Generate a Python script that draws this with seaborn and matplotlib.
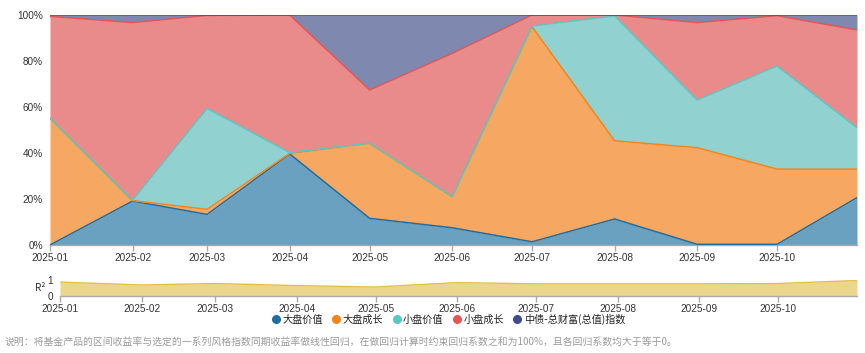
import numpy as np
import pandas as pd
import matplotlib
matplotlib.use("Agg")
import matplotlib.pyplot as plt
from matplotlib.lines import Line2D
from matplotlib.ticker import FuncFormatter
import seaborn as sns

# ---------------- data ----------------
dates = ["2025-01-01", "2025-02-01", "2025-03-01", "2025-04-01", "2025-05-01",
         "2025-06-01", "2025-07-01", "2025-08-01", "2025-09-01", "2025-10-01",
         "2025-10-31"]
tick_labels = ["2025-01", "2025-02", "2025-03", "2025-04", "2025-05",
               "2025-06", "2025-07", "2025-08", "2025-09", "2025-10"]
series_names = ["大盘价值", "大盘成长", "小盘价值", "小盘成长", "中债-总财富(总值)指数"]

large_value = [0.0, 19.1, 13.3, 39.6, 11.6, 7.5, 1.4, 11.3, 0.3, 0.3, 20.6]
large_growth = [55.1, 0.2, 2.2, 0.2, 32.6, 13.5, 93.5, 34.0, 42.0, 32.7, 12.4]
small_value = [0.1, 0.2, 43.9, 0.4, 0.1, 0.1, 0.3, 54.3, 20.7, 44.8, 18.0]
small_growth = [44.2, 77.2, 40.4, 59.8, 23.1, 62.2, 4.8, 0.4, 33.7, 21.9, 42.5]
bond_index = [0.6, 3.3, 0.2, 0.0, 32.6, 16.7, 0.0, 0.0, 3.3, 0.3, 6.5]

r_squared = [0.87, 0.69, 0.78, 0.65, 0.56, 0.84, 0.76, 0.76, 0.76, 0.78, 0.97]

footnote = "说明：将基金产品的区间收益率与选定的一系列风格指数同期收益率做线性回归，在做回归计算时约束回归系数之和为100%，且各回归系数均大于等于0。"

# ---------------- style ----------------
line_colors = ["#1f6e9f", "#f58518", "#5cc6c4", "#e45756", "#3e4c8a"]
fill_colors = ["#6aa0c0", "#f6a863", "#91d2d0", "#e98b8b", "#7f88ae"]
r2_fill = "#ecd68e"
r2_line = "#e2bf45"
axis_gray = "#aaaaaa"
text_col = "#333333"

sns.set_theme(style="white")
plt.rcParams["font.family"] = ["Liberation Sans", "Noto Sans CJK SC", "DejaVu Sans"]
cjk = ["Noto Sans CJK SC", "DejaVu Sans"]

x = pd.to_datetime(pd.Series(dates))
series = [large_value, large_growth, small_value, small_growth, bond_index]
cum = np.cumsum(np.array(series, dtype=float), axis=0)

fig = plt.figure(figsize=(8.65, 3.53), dpi=100)
W, H = 865, 353
ax = fig.add_axes([50 / W, 1 - 245 / H, 807 / W, 230 / H])
ax2 = fig.add_axes([60 / W, 1 - 296 / H, 797 / W, 16 / H])

# stacked areas
prev = np.zeros(len(dates))
for i in range(len(series)):
    ax.fill_between(x, prev, cum[i], color=fill_colors[i], linewidth=0, zorder=1 + i * 0.01)
    prev = cum[i]
for i in range(len(series)):
    df = pd.DataFrame({"date": x, "value": cum[i]})
    sns.lineplot(data=df, x="date", y="value", ax=ax, color=line_colors[i],
                 linewidth=1.1, zorder=3 + i * 0.01, legend=False)

xmin, xmax = x.iloc[0], x.iloc[-1]
ax.set_xlim(xmin, xmax)
ax.set_ylim(0, 100)
ax.set_yticks([0, 20, 40, 60, 80, 100])
ax.yaxis.set_major_formatter(FuncFormatter(lambda v, p: f"{int(v)}%"))
tick_pos = pd.to_datetime([t + "-01" for t in tick_labels])
for a in (ax, ax2):
    a.set_xticks(tick_pos)
    a.set_xticklabels(tick_labels)
    a.set_xlabel("")
    for s in ("top", "right", "left"):
        a.spines[s].set_visible(False)
    a.spines["bottom"].set_color(axis_gray)
    a.spines["bottom"].set_linewidth(1.0)
    a.tick_params(axis="x", which="major", bottom=True, length=4, width=1,
                  color=axis_gray, labelsize=7.2, labelcolor=text_col, pad=2)
    a.tick_params(axis="y", left=False, length=0, labelsize=7.2, labelcolor=text_col, pad=5)
ax.set_ylabel("")

# R^2 panel
ax2.fill_between(x, 0, r_squared, color=r2_fill, linewidth=0)
sns.lineplot(x=x, y=r_squared, ax=ax2, color=r2_line, linewidth=1.0, legend=False)
ax2.set_xlim(xmin, xmax)
ax2.set_ylim(0, 1)
ax2.set_yticks([0, 1])
ax2.set_yticklabels(["0", "1"])
ax2.set_xlabel("")
ax2.set_ylabel("")
fig.text(40 / W, 1 - 288 / H, "R²", fontsize=7.2, color=text_col, ha="center", va="center",
         family=cjk)

# legend
handles = [Line2D([0], [0], marker="o", linestyle="", markersize=5.5,
                  markerfacecolor=line_colors[i], markeredgecolor=line_colors[i])
           for i in range(len(series_names))]
leg = fig.legend(handles, series_names, loc="center", bbox_to_anchor=(448 / W, 1 - 319 / H),
                 ncol=5, frameon=False, handletextpad=0.15, columnspacing=0.8,
                 handlelength=1.0, borderpad=0,
                 prop={"family": cjk, "size": 7.3, "weight": "medium"})
for t in leg.get_texts():
    t.set_color("#222222")

fig.text(5 / W, 1 - 342 / H, footnote, fontsize=7.1, color="#9a9a9a",
         ha="left", va="center", family=cjk)

fig.savefig("out.png", dpi=100)
